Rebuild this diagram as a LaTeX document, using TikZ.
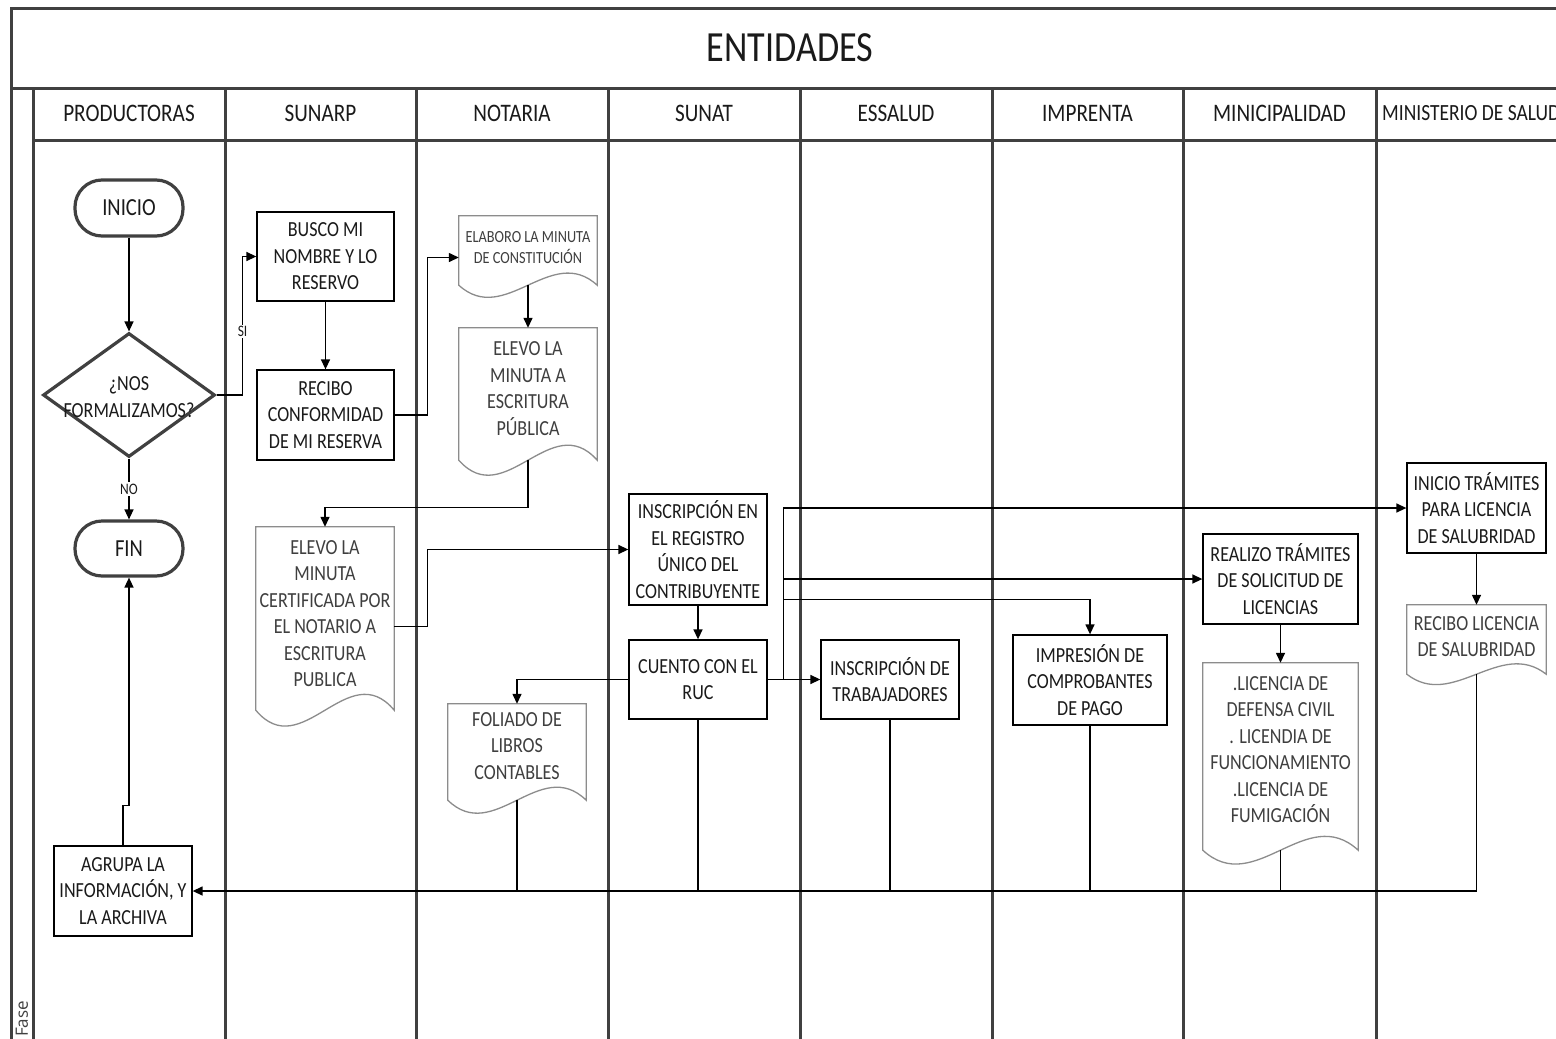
\documentclass[tikz,border=0pt]{standalone}
\usepackage{fontspec}
\setmainfont{Carlito}[FakeStretch=0.84]
\newfontfamily\fasefont{Open Sans}
\usetikzlibrary{arrows.meta,shapes.geometric,calc}
\definecolor{lanec}{HTML}{404040}
\definecolor{docb}{HTML}{8C8C8C}
\definecolor{doct}{HTML}{3F3F3F}
\definecolor{txt}{HTML}{1A1A1A}
\newcommand\docwave[4]{%
\draw[docline] (#1.north west) -- (#1.north east) -- ([yshift=-#2pt]#1.south east)
 .. controls +(-#4pt,#3pt) and +(#4pt,-#3pt) .. ([yshift=-#2pt]#1.south west) -- cycle;}
\tikzset{
 lane/.style={draw=lanec, line width=3pt},
 hdr/.style={font=\fontsize{25.2}{28}\selectfont, text=txt, inner sep=0},
 term/.style={draw=lanec, line width=3.2pt, rounded corners=27pt, minimum width=108pt, minimum height=56pt, font=\fontsize{24.5}{28}\selectfont, text=txt, inner sep=0},
 box/.style={draw=black, line width=1.3pt, align=center, inner sep=0, font=\fontsize{21.5}{26.5}\selectfont, text=txt},
 docn/.style={align=center, inner sep=0, font=\fontsize{21.5}{26.5}\selectfont, text=doct},
 docline/.style={draw=docb, line width=1.3pt},
 con/.style={draw=black, line width=1.4pt},
 arr/.style={con, -{Triangle[length=10pt,width=9pt]}},
 lab/.style={font=\fontsize{16}{18}\selectfont, fill=white, inner sep=1.5pt, text=txt},
}
\begin{document}
\begin{tikzpicture}[x=1pt,y=-1pt]
\useasboundingbox (0,0) rectangle (1556,1039);
\fill[white] (0,0) rectangle (1556,1039);
\clip (0,0) rectangle (1556,1039);
% frame and lanes
\draw[lane] (11,1050) -- (11,8) -- (1600,8);
\draw[lane] (11,88) -- (1600,88);
\draw[lane] (33,140) -- (1600,140);
\draw[lane] (33,88) -- (33,1050);
\foreach \x in {225,416,608,800,992,1183,1376} {\draw[lane] (\x,88) -- (\x,1050);}
\node[font=\fontsize{43}{48}\selectfont, text=txt, inner sep=0] (title) at (790,48) {ENTIDADES};
\node[hdr] (h1) at (129,113) {PRODUCTORAS};
\node[hdr] (h2) at (320.5,113) {SUNARP};
\node[hdr] (h3) at (512,113) {NOTARIA};
\node[hdr] (h4) at (704,113) {SUNAT};
\node[hdr] (h5) at (896,113) {ESSALUD};
\node[hdr] (h6) at (1087.5,113) {IMPRENTA};
\node[hdr] (h7) at (1279.5,113) {MINICIPALIDAD};
\node[hdr, anchor=west, font=\fontsize{23.2}{28}\selectfont] (h8) at (1382,113) {MINISTERIO DE SALUD};
\node[font=\fasefont\fontsize{17}{20}\selectfont, text=lanec, rotate=90, anchor=west, inner sep=0] (fase) at (22,1037) {Fase};
% nodes
\node[term] (inicio) at (129,208) {INICIO};
\node[diamond, draw=lanec, line width=3.2pt, minimum width=172pt, minimum height=124pt, inner sep=0] (dec) at (129,395) {};
\node[box, draw=none] (dect) at (129,397) {¿NOS\\FORMALIZAMOS?};
\node[term, minimum height=55pt] (fin) at (129,548.5) {FIN};
\node[box, minimum width=137pt, minimum height=89pt] (busco) at (325.5,256.5) {BUSCO MI\\NOMBRE Y LO\\RESERVO};
\node[box, minimum width=137pt, minimum height=90pt] (recibo) at (325.5,415) {RECIBO\\CONFORMIDAD\\DE MI RESERVA};
\node[docn, minimum width=138pt, minimum height=63pt, font=\fontsize{17}{21}\selectfont] (elab) at (528,247.5) {ELABORO LA MINUTA\\DE CONSTITUCIÓN};
\docwave{elab}{6}{42}{46}
\node[docn, minimum width=138pt, minimum height=121pt] (elevo1) at (528,388.5) {ELEVO LA\\MINUTA A\\ESCRITURA\\PÚBLICA};
\docwave{elevo1}{11}{52}{46}
\node[docn, minimum width=138pt, minimum height=173pt] (elevo2) at (325,613.5) {ELEVO LA\\MINUTA\\CERTIFICADA POR\\EL NOTARIO A\\ESCRITURA\\PUBLICA};
\docwave{elevo2}{10}{55}{46}
\node[box, minimum width=138pt, minimum height=111pt] (insc) at (698,549.5) {INSCRIPCIÓN EN\\EL REGISTRO\\ÚNICO DEL\\CONTRIBUYENTE};
\node[box, minimum width=138pt, minimum height=79pt] (cuento) at (698,679.5) {CUENTO CON EL\\RUC};
\node[docn, minimum width=138pt, minimum height=84pt] (foliado) at (517,746) {FOLIADO DE\\LIBROS\\CONTABLES};
\docwave{foliado}{12}{45}{46}
\node[box, minimum width=138pt, minimum height=79pt] (trab) at (890,679.5) {INSCRIPCIÓN DE\\TRABAJADORES};
\node[box, minimum width=154pt, minimum height=90pt] (impr) at (1090,680) {IMPRESIÓN DE\\COMPROBANTES\\DE PAGO};
\node[box, minimum width=155pt, minimum height=90pt] (real) at (1280.5,579) {REALIZO TRÁMITES\\DE SOLICITUD DE\\LICENCIAS};
\node[docn, minimum width=155pt, minimum height=173pt] (lic) at (1280.5,749.5) {.LICENCIA DE\\DEFENSA CIVIL\\. LICENDIA DE\\FUNCIONAMIENTO\\.LICENCIA DE\\FUMIGACIÓN};
\docwave{lic}{14}{48}{52}
\node[box, minimum width=139pt, minimum height=90pt] (initr) at (1476.5,508) {INICIO TRÁMITES\\PARA LICENCIA\\DE SALUBRIDAD};
\node[docn, minimum width=139pt, minimum height=63pt] (reclic) at (1476.5,636.5) {RECIBO LICENCIA\\DE SALUBRIDAD};
\docwave{reclic}{6}{36}{46}
\node[box, minimum width=138pt, minimum height=90pt] (agr) at (123,891) {AGRUPA LA\\INFORMACIÓN, Y\\LA ARCHIVA};
% connectors
\draw[arr] (inicio.south) -- (dec.north);
\draw[arr] (dec.south) -- node[lab]{NO} (fin.north);
\draw[arr] (dec.east) -- ++(26,0) |- node[lab,pos=0.23]{SI} (busco.west);
\draw[arr] (busco.south) -- (recibo.north);
\draw[arr] (recibo.east) -- ++(33,0) |- ([yshift=-10pt]elab.west);
\draw[arr] ([yshift=-6pt]elab.south) -- (elevo1.north);
\draw[arr] ([yshift=-11pt]elevo1.south) -- ++(0,47) -| (elevo2.north);
\draw[arr] ([yshift=-13pt]elevo2.east) -- ++(33,0) |- (insc.west);
\draw[arr] (insc.south) -- (cuento.north);
\draw[arr] (cuento.west) -| (foliado.north);
\draw[con] (cuento.east) -- ++(16,0) coordinate (j);
\draw[arr] (j) -- (trab.west);
\draw[arr] (j) |- (initr.west);
\draw[arr] (j) |- (real.west);
\draw[arr] (j) -- ++(0,-80) -| (impr.north);
\draw[arr] (real.south) -- (lic.north);
\draw[arr] (initr.south) -- (reclic.north);
\draw[con] ([yshift=-12pt]foliado.south) -- (foliado.south |- agr.east);
\draw[con] (cuento.south) -- (cuento.south |- agr.east);
\draw[con] (trab.south) -- (trab.south |- agr.east);
\draw[con] (impr.south) -- (impr.south |- agr.east);
\draw[con] ([yshift=-14pt]lic.south) -- (lic.south |- agr.east);
\draw[arr] ([yshift=-6pt]reclic.south) |- (agr.east);
\draw[arr] (agr.north) -- ++(0,-40) -| (fin.south);
\end{tikzpicture}
\end{document}
